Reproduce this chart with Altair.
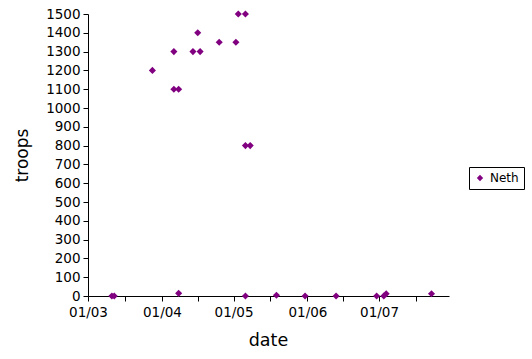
import altair as alt
import pandas as pd

dates = [
    "1815-03-11", "1815-03-12", "1815-03-28", "1815-04-06", "1815-04-06",
    "1815-04-08", "1815-04-08", "1815-04-14", "1815-04-16", "1815-04-17",
    "1815-04-25", "1815-05-02", "1815-05-03", "1815-05-06", "1815-05-06",
    "1815-05-08", "1815-05-06", "1815-05-19", "1815-05-31", "1815-06-13",
    "1815-06-30", "1815-07-03", "1815-07-04", "1815-07-23",
]
troops = [
    0, 0, 1200, 1300, 1100,
    1100, 14, 1300, 1400, 1300,
    1350, 1350, 1500, 1500, 800,
    800, 0, 4, 0, 0,
    0, 0, 12, 12,
]
series = ["Neth"] * len(dates)

df = pd.DataFrame({"date": dates, "troops": troops, "series": series})

# month starts (labelled) and mid-month minor ticks
tick_spec = [(3, 1, 0), (3, 16, 12), (4, 1, 0), (4, 16, 0), (5, 1, 0),
             (5, 16, 12), (6, 1, 0), (6, 16, 0), (7, 1, 0), (7, 16, 12)]
month_ticks = [alt.DateTime(year=1815, month=m, date=d, hours=h, utc=True)
               for m, d, h in tick_spec]

font = "DejaVu Sans"

chart = alt.Chart(df).mark_point(
    shape="diamond", filled=True, size=50, opacity=1
).encode(
    x=alt.X(
        "date:T",
        title="date",
        scale=alt.Scale(
            type="utc",
            domain=[alt.DateTime(year=1815, month=3, date=1, utc=True),
                    alt.DateTime(year=1815, month=7, date=30, hours=8, utc=True)],
            nice=False,
        ),
        axis=alt.Axis(
            values=month_ticks,
            format="%d/%m",
            labelExpr="utcdate(datum.value) == 1 ? utcFormat(datum.value, '%d/%m') : ''",
            labelFlush=False,
            labelAlign="center",
            labelOverlap=False,
            grid=False,
            tickSize=5,
            tickColor="black",
            domainColor="black",
            labelColor="black",
            labelFont=font,
            labelFontSize=13.5,
            labelPadding=4,
            titleFont=font,
            titleFontSize=17.5,
            titleFontWeight="normal",
            titleColor="black",
            titleX=180,
            titleY=44,
            titleBaseline="middle",
        ),
    ),
    y=alt.Y(
        "troops:Q",
        title="troops",
        scale=alt.Scale(domain=[0, 1500], nice=False),
        axis=alt.Axis(
            values=list(range(0, 1501, 100)),
            format="d",
            labelFlush=False,
            labelOverlap=False,
            grid=False,
            tickSize=5,
            tickColor="black",
            domainColor="black",
            labelColor="black",
            labelFont=font,
            labelFontSize=13.5,
            labelPadding=3,
            titleFont=font,
            titleFontSize=17,
            titleFontWeight="normal",
            titleColor="black",
            titleX=-66,
            titleY=141,
            titleAlign="center",
            titleBaseline="middle",
        ),
    ),
    color=alt.Color(
        "series:N",
        scale=alt.Scale(domain=["Neth"], range=["#800080"]),
        legend=alt.Legend(
            title=None,
            orient="none",
            legendX=381,
            legendY=153,
            strokeColor="black",
            padding=5,
            cornerRadius=0,
            symbolType="diamond",
            symbolSize=40,
            labelFont=font,
            labelFontSize=12,
            labelColor="black",
        ),
    ),
).properties(
    width=361,
    height=282,
    padding={"left": 88, "top": 14, "right": 83, "bottom": 63},
    autosize=alt.AutoSizeParams(type="none"),
).configure_view(stroke=None).configure_axis(domainWidth=1, tickWidth=1)

chart.save("out.html", embed_options={"renderer": "svg", "actions": False})
